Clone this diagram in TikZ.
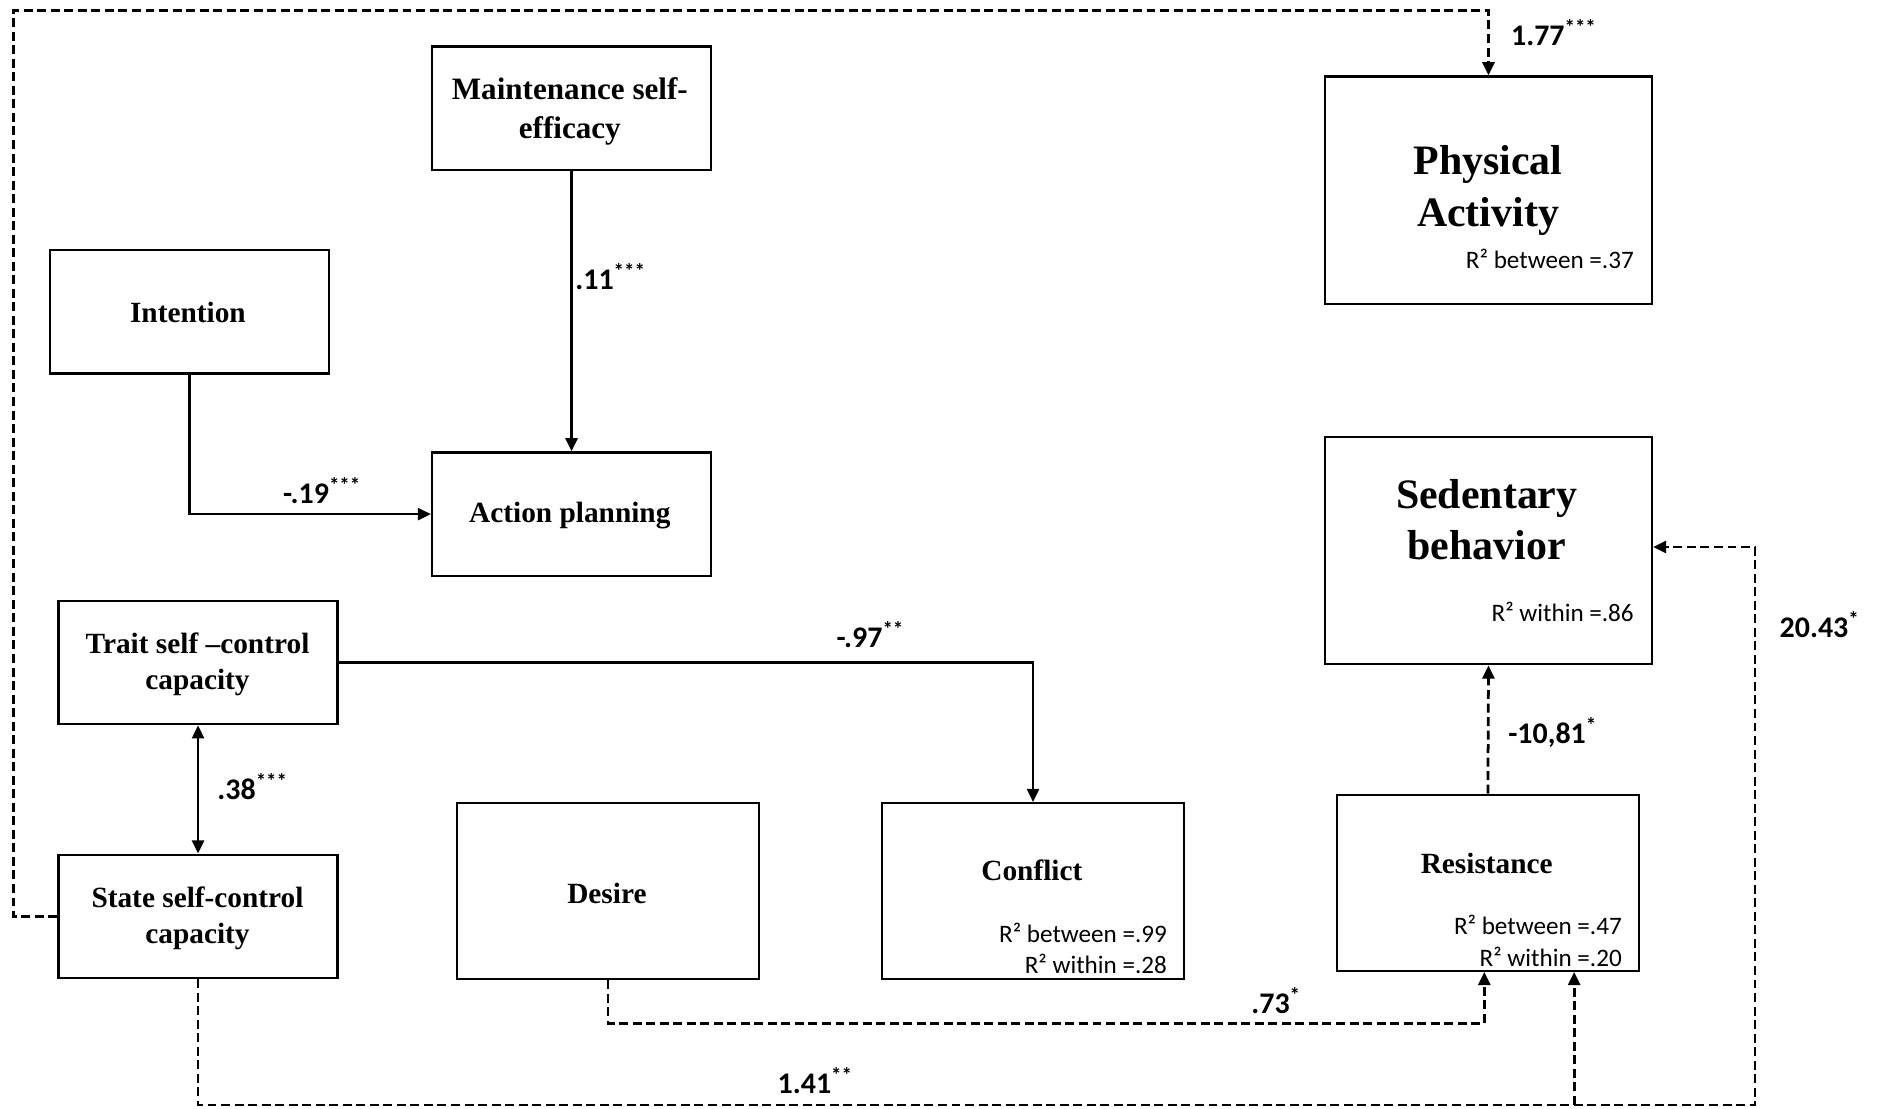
\documentclass[tikz,border=0pt]{standalone}
\usepackage{fontspec}
\setmainfont{Liberation Serif}
\newfontfamily\lab{Carlito}
\usetikzlibrary{arrows.meta}
\tikzset{
  box/.style={draw, line width=1.9pt, inner sep=0pt, anchor=north west},
  ttl/.style={font=\bfseries\fontsize{24.5}{30}\selectfont, align=center, inner sep=0pt},
  bigttl/.style={font=\bfseries\fontsize{35}{43}\selectfont, align=center, inner sep=0pt},
  rsq/.style={font=\lab\fontsize{21}{25}\selectfont, anchor=east, inner sep=0pt},
  coef/.style={font=\lab\bfseries\fontsize{25}{30}\selectfont, inner sep=0pt},
  conn/.style={line width=2.3pt, -{Triangle[length=11pt,width=10pt]}},
  dconn/.style={conn, dash pattern=on 7.5pt off 3.8pt},
}
\begin{document}
\begin{tikzpicture}[x=1pt,y=-1pt]
\useasboundingbox (0,0) rectangle (1568,926);
% boxes
\node[box, minimum width=233pt, minimum height=103pt] (maint) at (360,38) {};
\node[box, minimum width=233pt, minimum height=103pt] (intent) at (41,208) {};
\node[box, minimum width=233pt, minimum height=103pt] (action) at (360,377) {};
\node[box, minimum width=233pt, minimum height=103pt] (trait) at (48,501) {};
\node[box, minimum width=233pt, minimum height=103pt] (state) at (48,713) {};
\node[box, minimum width=252pt, minimum height=147pt] (desire) at (381,670) {};
\node[box, minimum width=252pt, minimum height=147pt] (conflict) at (736,670) {};
\node[box, minimum width=252pt, minimum height=147pt] (res) at (1116,663) {};
\node[box, minimum width=273pt, minimum height=190pt] (pa) at (1106,63) {};
\node[box, minimum width=273pt, minimum height=190pt] (sed) at (1106,364) {};
% titles
\node[ttl, font=\bfseries\fontsize{26}{33}\selectfont] (tmaint) at (476,93) {Maintenance self-\\efficacy};
\node[ttl] (tintent) at (157,261) {Intention};
\node[ttl] (taction) at (476,431) {Action planning};
\node[ttl] (ttrait) at (165,555) {Trait self --control\\capacity};
\node[ttl] (tstate) at (165,767) {State self-control\\capacity};
\node[ttl] (tdesire) at (507,746) {Desire};
\node[ttl] (tconflict) at (862,727) {Conflict};
\node[ttl] (tres) at (1242,721) {Resistance};
\node[bigttl] (tpa) at (1243,159) {Physical\\Activity};
\node[bigttl, font=\bfseries\fontsize{35}{42}\selectfont] (tsed) at (1242,434) {Sedentary\\behavior};
% R2
\node[rsq] (r1) at (1365,216) {R² between =.37};
\node[rsq] (r2) at (1365,511) {R² within =.86};
\node[rsq] (r3) at (975,779) {R² between =.99};
\node[rsq] (r4) at (975,805) {R² within =.28};
\node[rsq] (r5) at (1355,773) {R² between =.47};
\node[rsq] (r6) at (1355,799) {R² within =.20};
% connectors
\draw[conn] (maint.south) -- (action.north);
\draw[conn] (intent.south) |- (action.west);
\draw[conn] (trait.east) -| (conflict.north);
\draw[line width=2.3pt, {Triangle[length=11pt,width=10pt]}-{Triangle[length=11pt,width=10pt]}] (trait.south) -- (state.north);
\coordinate (tl) at (11,9);
\draw[dconn] (state.west) -| (tl) -| (pa.north);
\draw[dconn] (desire.south) -- ++(0,36) -| ([xshift=-3pt]res.south);
\coordinate (br) at (1466,923);
\coordinate (bj) at (1315,923);
\draw[dconn] (state.south) |- (br) |- ([yshift=3pt]sed.east);
\draw[dconn] (bj) -- (res.south -| bj);
\draw[dconn] (res.north) -- (sed.south);
% coefficients
\node[coef] (c177) at (1298,27) {1.77\textsuperscript{***}};
\node[coef] (c11) at (510,231) {.11\textsuperscript{***}};
\node[coef] (c19) at (269,410) {-.19\textsuperscript{***}};
\node[coef] (c97) at (727,530) {-.97\textsuperscript{**}};
\node[coef] (c38) at (211,657) {.38\textsuperscript{***}};
\node[coef] (c73) at (1066,836) {.73\textsuperscript{*}};
\node[coef] (c141) at (681,903) {1.41\textsuperscript{**}};
\node[coef] (c1081) at (1297,612) {-10,81\textsuperscript{*}};
\node[coef] (c2043) at (1520,522) {20.43\textsuperscript{*}};
\end{tikzpicture}
\end{document}
